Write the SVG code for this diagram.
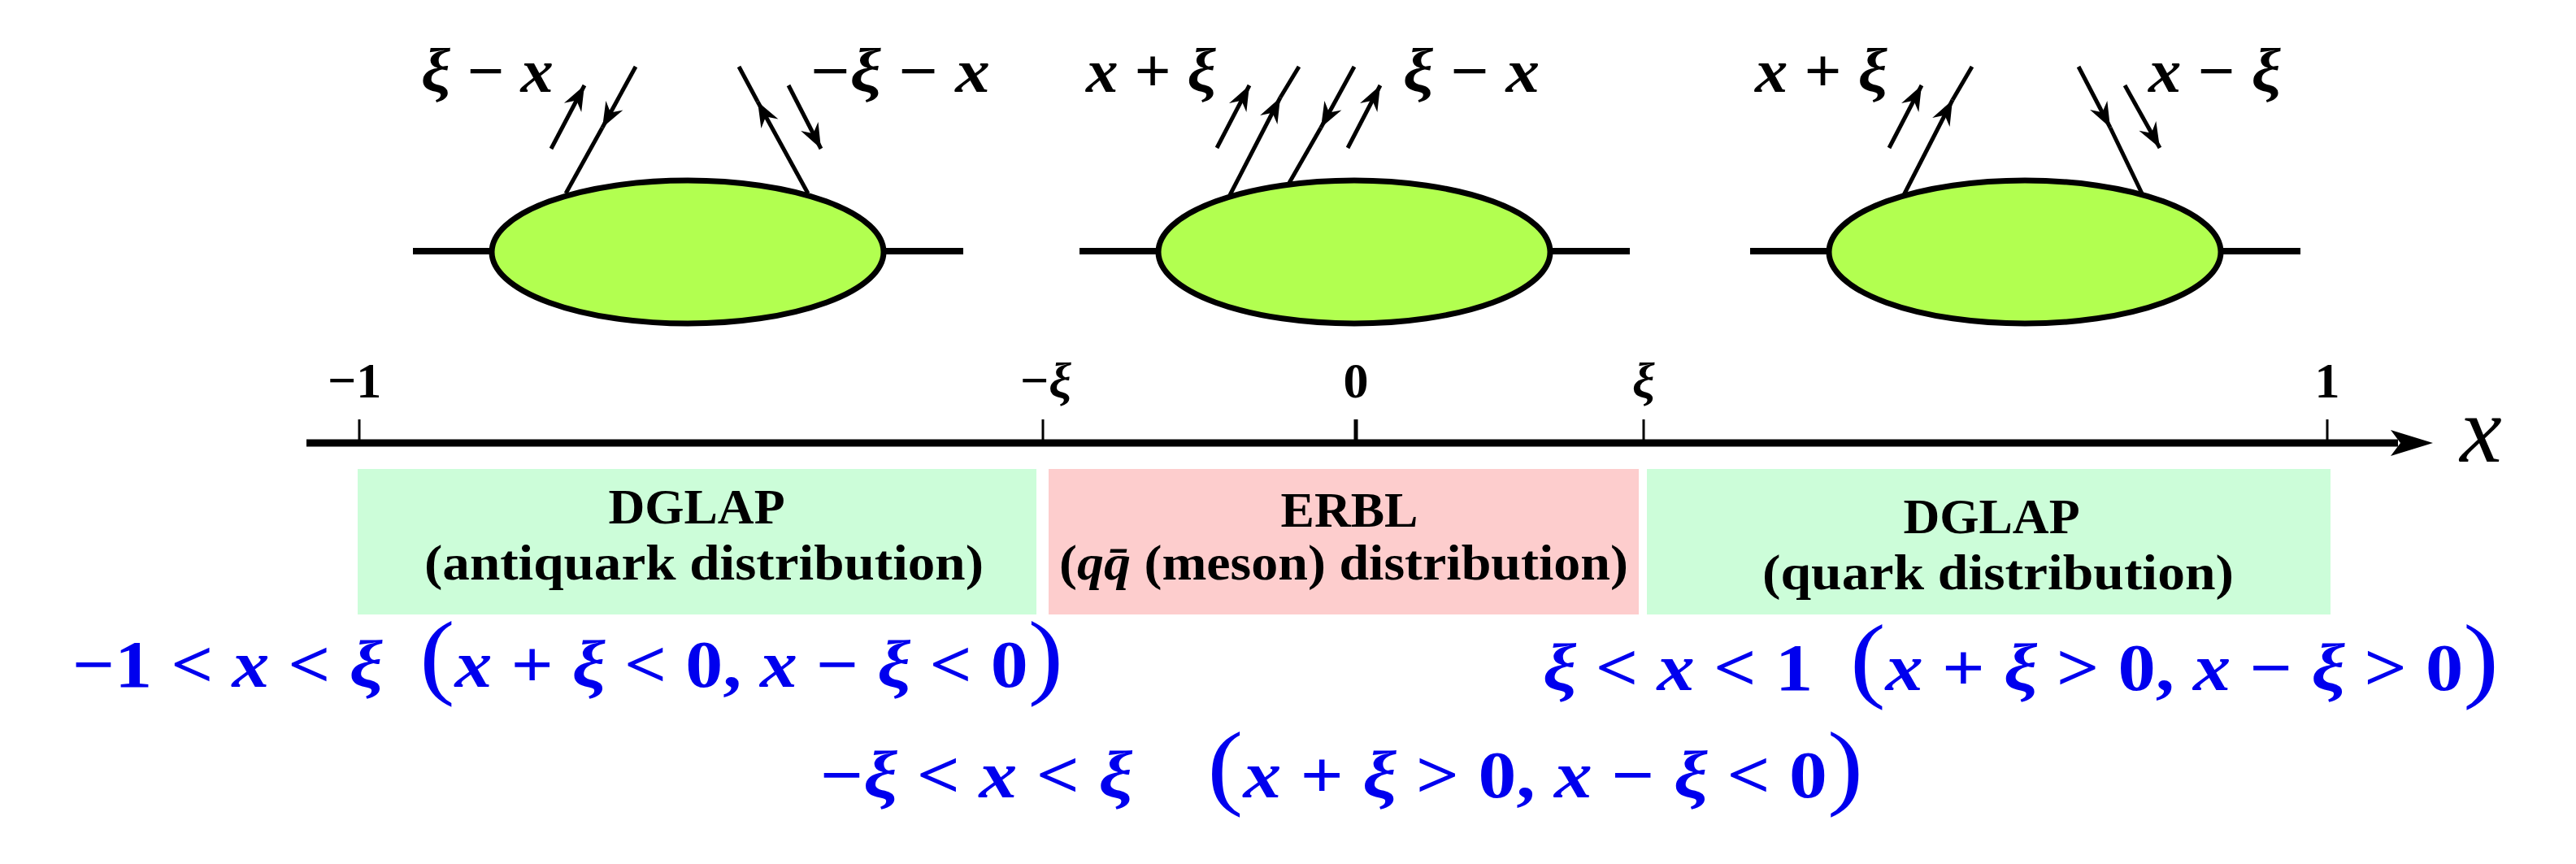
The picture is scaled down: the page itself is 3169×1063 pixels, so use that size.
<svg xmlns="http://www.w3.org/2000/svg" width="3169" height="1063" viewBox="0 0 3169 1063">
<style>
.ell{fill:#b2ff50;stroke:#000;stroke-width:7}
.stub{stroke:#000;stroke-width:8}
.ln{stroke:#000;stroke-width:5;fill:none}
.lab{font-family:"Liberation Serif",serif;font-weight:bold;font-style:italic;font-size:76px;fill:#000}
.up{font-style:normal}
.tick{font-family:"Liberation Serif",serif;font-weight:bold;font-size:62px;fill:#000}
.box{font-family:"Liberation Serif",serif;font-weight:bold;font-size:62px;fill:#000;text-anchor:middle}
.f{font-family:"Liberation Serif",serif;font-weight:bold;font-size:82px;fill:#0000ee}
.i{font-style:italic}
.p{font-size:116px;font-weight:normal}
</style>
<defs>
<marker id="ah" viewBox="-32 -15 34 30" markerWidth="34" markerHeight="30" refX="0" refY="0" orient="auto" markerUnits="userSpaceOnUse">
<path d="M0,0 L-31,-12 L-21,0 L-31,12 Z" fill="#000"/>
</marker>
</defs>
<g id="diagram-left">
<line class="stub" x1="508" y1="309" x2="605" y2="309"/>
<line class="stub" x1="1087" y1="309" x2="1185" y2="309"/>
<ellipse class="ell" cx="846" cy="310" rx="241" ry="88"/>
</g>
<g id="diagram-middle">
<line class="stub" x1="1328" y1="309" x2="1425" y2="309"/>
<line class="stub" x1="1907" y1="309" x2="2005" y2="309"/>
<ellipse class="ell" cx="1666" cy="310" rx="241" ry="88"/>
</g>
<g id="diagram-right">
<line class="stub" x1="2153" y1="309" x2="2250" y2="309"/>
<line class="stub" x1="2732" y1="309" x2="2830" y2="309"/>
<ellipse class="ell" cx="2491" cy="310" rx="241" ry="88"/>
</g>
<g id="connectors">
<path class="ln" d="M782,82 L741,157" marker-end="url(#ah)"/>
<path class="ln" d="M741,157 L696,238"/>
<path class="ln" d="M678,183 L719,105" marker-end="url(#ah)"/>
<path class="ln" d="M994,238 L932,125" marker-end="url(#ah)"/>
<path class="ln" d="M932,125 L909,82"/>
<path class="ln" d="M970,105 L1010,183" marker-end="url(#ah)"/>
<path class="ln" d="M1513,240 L1575,120" marker-end="url(#ah)"/>
<path class="ln" d="M1575,120 L1598,82"/>
<path class="ln" d="M1497,182 L1537,105" marker-end="url(#ah)"/>
<path class="ln" d="M1666,82 L1625,157" marker-end="url(#ah)"/>
<path class="ln" d="M1625,157 L1586,225"/>
<path class="ln" d="M1658,182 L1698,105" marker-end="url(#ah)"/>
<path class="ln" d="M2342,240 L2402,123" marker-end="url(#ah)"/>
<path class="ln" d="M2402,123 L2426,82"/>
<path class="ln" d="M2324,182 L2364,105" marker-end="url(#ah)"/>
<path class="ln" d="M2557,82 L2596,157" marker-end="url(#ah)"/>
<path class="ln" d="M2596,157 L2636,240"/>
<path class="ln" d="M2614,105 L2657,182" marker-end="url(#ah)"/>
<line x1="377" y1="545" x2="2950" y2="545" stroke="#000" stroke-width="9"/>
<path d="M2993,545 L2941,529 L2953,545 L2941,561 Z" fill="#000"/>
<g stroke="#000" stroke-width="3">
<line x1="442" y1="516" x2="442" y2="545"/>
<line x1="1283" y1="516" x2="1283" y2="545"/>
<line x1="1668" y1="516" x2="1668" y2="545" stroke-width="5"/>
<line x1="2022" y1="516" x2="2022" y2="545"/>
<line x1="2863" y1="516" x2="2863" y2="545"/>
</g>
</g>
<g id="labels-top">
<text class="lab" x="518" y="113" textLength="163" lengthAdjust="spacingAndGlyphs">ξ<tspan class="up"> − </tspan>x</text>
<text class="lab" x="997" y="113" textLength="221" lengthAdjust="spacingAndGlyphs"><tspan class="up">−</tspan>ξ<tspan class="up"> − </tspan>x</text>
<text class="lab" x="1336" y="113" textLength="160" lengthAdjust="spacingAndGlyphs">x<tspan class="up"> + </tspan>ξ</text>
<text class="lab" x="1726" y="113" textLength="168" lengthAdjust="spacingAndGlyphs">ξ<tspan class="up"> − </tspan>x</text>
<text class="lab" x="2159" y="113" textLength="163" lengthAdjust="spacingAndGlyphs">x<tspan class="up"> + </tspan>ξ</text>
<text class="lab" x="2643" y="113" textLength="163" lengthAdjust="spacingAndGlyphs">x<tspan class="up"> − </tspan>ξ</text>
</g>
<g id="axis-labels">
<text class="tick" x="403" y="489">−1</text>
<text class="tick" x="1255" y="489">−<tspan font-style="italic">ξ</tspan></text>
<text class="tick" x="1668" y="489" text-anchor="middle">0</text>
<text class="tick" x="2022" y="489" text-anchor="middle" font-style="italic">ξ</text>
<text class="tick" x="2863" y="489" text-anchor="middle">1</text>
<text x="3052" y="568" font-family="Liberation Serif,serif" font-style="italic" font-size="116" text-anchor="middle">x</text>
</g>
<g id="box-antiquark">
<rect x="440" y="577" width="835" height="179" fill="#ccfdd9"/>
<text class="box" x="857" y="644">DGLAP</text>
<text class="box" x="866" y="713" textLength="688" lengthAdjust="spacingAndGlyphs">(antiquark distribution)</text>
</g>
<g id="box-erbl">
<rect x="1290" y="577" width="726" height="179" fill="#fdcdcd"/>
<text class="box" x="1660" y="648">ERBL</text>
<text class="box" x="1653" y="713" textLength="700" lengthAdjust="spacingAndGlyphs">(<tspan font-style="italic">qq̄</tspan> (meson) distribution)</text>
</g>
<g id="box-quark">
<rect x="2026" y="577" width="841" height="179" fill="#ccfdd9"/>
<text class="box" x="2450" y="656">DGLAP</text>
<text class="box" x="2458" y="725" textLength="580" lengthAdjust="spacingAndGlyphs">(quark distribution)</text>
</g>
<g id="conditions">
<text class="f" x="89" y="845" textLength="1219" lengthAdjust="spacingAndGlyphs">−1 &lt; <tspan class="i">x</tspan> &lt; <tspan class="i">ξ</tspan> <tspan class="p" dx="20">(</tspan><tspan class="i">x</tspan> + <tspan class="i">ξ</tspan> &lt; 0, <tspan class="i">x</tspan> − <tspan class="i">ξ</tspan> &lt; 0<tspan class="p">)</tspan></text>
<text class="f" x="1898" y="849" textLength="1176" lengthAdjust="spacingAndGlyphs"><tspan class="i">ξ</tspan> &lt; <tspan class="i">x</tspan> &lt; 1 <tspan class="p" dx="20">(</tspan><tspan class="i">x</tspan> + <tspan class="i">ξ</tspan> &gt; 0, <tspan class="i">x</tspan> − <tspan class="i">ξ</tspan> &gt; 0<tspan class="p">)</tspan></text>
<text class="f" x="1009" y="981" textLength="1283" lengthAdjust="spacingAndGlyphs">−<tspan class="i">ξ</tspan> &lt; <tspan class="i">x</tspan> &lt; <tspan class="i">ξ</tspan> <tspan class="p" dx="60">(</tspan><tspan class="i">x</tspan> + <tspan class="i">ξ</tspan> &gt; 0, <tspan class="i">x</tspan> − <tspan class="i">ξ</tspan> &lt; 0<tspan class="p">)</tspan></text>
</g>
</svg>
